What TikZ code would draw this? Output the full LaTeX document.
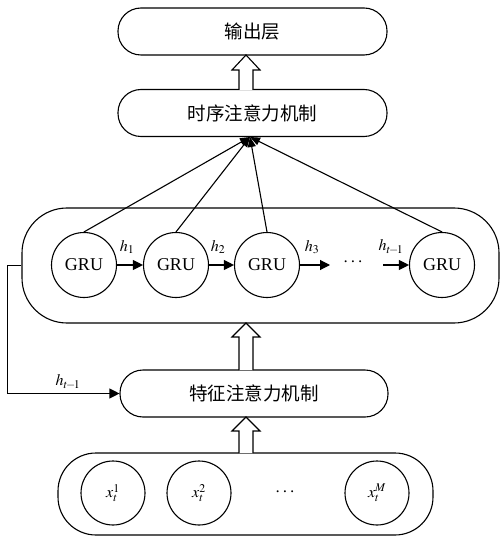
\documentclass[tikz,border=0pt]{standalone}
\usepackage{mathptmx}
\usepackage{fontspec}
\setmainfont{Liberation Serif}
\newfontfamily\cjk{Noto Sans CJK SC}
\usetikzlibrary{arrows.meta}
\begin{document}
\begin{tikzpicture}[x=1pt,y=-1pt,line width=1.1pt,
  box/.style={draw, rounded corners=23pt, minimum width=269pt, minimum height=47pt, inner sep=0pt, font=\cjk\fontsize{18.5}{18.5}\selectfont},
  gru/.style={draw, circle, minimum size=65pt, inner sep=0pt, font=\fontsize{18}{18}\selectfont},
  xin/.style={draw, circle, minimum size=64pt, inner sep=0pt, font=\fontsize{16}{16}\selectfont},
  chain/.style={-{Triangle[length=10pt,width=10pt]}},
  conv/.style={-{Triangle[length=10pt,width=8pt]}},
  hollow/.style={draw, fill=white, line width=1.1pt, line join=miter},
  lab/.style={inner sep=0pt, font=\fontsize{16}{16}\selectfont},
  dots/.style={inner sep=0pt, font=\fontsize{19}{19}\selectfont}]
\useasboundingbox (0,0) rectangle (501,537);
% boxes
\node[box] (out) at (252.5,31.5) {输出层};
\node[box] (tatt) at (252.5,113) {时序注意力机制};
\node[draw, rounded corners=45pt, minimum width=477pt, minimum height=115pt] (big) at (260.5,265.5) {};
\node[box, minimum width=268pt] (fatt) at (254,393.5) {特征注意力机制};
\node[draw, rounded corners=38pt, minimum width=375pt, minimum height=82pt] (inp) at (245.5,494) {};
% GRU cells
\node[gru] (g1) at (84,265) {GRU};
\node[gru] (g2) at (176,265) {GRU};
\node[gru] (g3) at (267,265) {GRU};
\node[gru] (g5) at (442,265) {GRU};
\node[dots] (gdots) at (353,262) {$\cdots$};
\coordinate (c3) at (330,265);
\coordinate (c4) at (383,265);
\draw[chain] (g1) -- (g2);
\draw[chain] (g2) -- (g3);
\draw[chain] (g3.east) -- (c3);
\draw[chain] (c4) -- (g5.west);
\node[lab] (l1) at (127,247) {$h_1$};
\node[lab] (l2) at (218,247) {$h_2$};
\node[lab] (l3) at (312,247) {$h_3$};
\node[lab] (l4) at (391,247) {$h_{t\!-\!1}$};
% converging arrows
\coordinate (cv) at (250,137);
\draw[conv] (g1.north) -- (cv);
\draw[conv] (g2.north) -- (cv);
\draw[conv] (g3.north) -- (cv);
\draw[conv] (g5.north) -- (cv);
% inputs
\node[xin] (x1) at (113,493) {$x_t^1$};
\node[xin] (x2) at (199,493) {$x_t^2$};
\node[dots] (xdots) at (285,492) {$\cdots$};
\node[xin] (xM) at (377,493) {$x_t^M$};
% feedback
\draw[chain] (big.west) -- ++(-14,0) |- (fatt.west);
\node[lab] (lf) at (68,382) {$h_{t\!-\!1}$};
% hollow arrows
\draw[hollow] (239,90) -- (239,70) -- (232,70) -- (246,55) -- (260,70) -- (253,70) -- (253,90);
\draw[hollow] (239,370) -- (239,337) -- (232,337) -- (246,323) -- (260,337) -- (253,337) -- (253,370);
\draw[hollow] (239,453) -- (239,431) -- (232,431) -- (246,417) -- (260,431) -- (253,431) -- (253,453);
\end{tikzpicture}
\end{document}
